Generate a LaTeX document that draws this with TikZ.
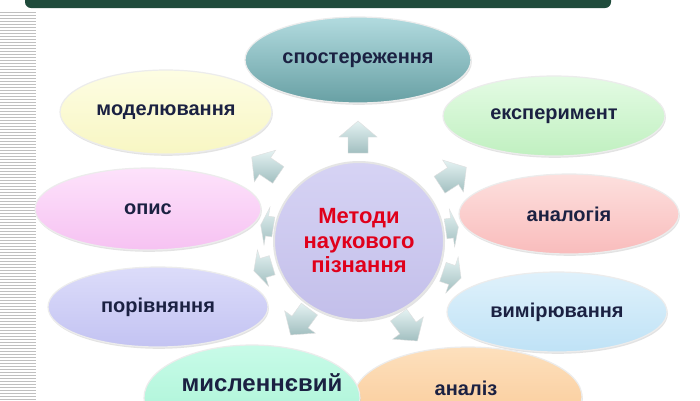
\documentclass[tikz,border=0pt]{standalone}
\usepackage{fontspec}
\setmainfont{Liberation Sans}
\usetikzlibrary{shapes.geometric,shadows}
\definecolor{banner}{HTML}{1F4B3B}
\definecolor{lbltext}{HTML}{1B2142}
\definecolor{ctr}{HTML}{E0001B}
\tikzset{
  oval/.style={ellipse, inner sep=0pt, draw=white!85!gray, line width=1.2pt,
    text=lbltext, font=\fontsize{20}{24}\selectfont\bfseries,
    drop shadow={shadow xshift=0.8pt, shadow yshift=-1.8pt, opacity=0.22}},
  lbl/.style={text=lbltext, font=\fontsize{20}{24}\selectfont\bfseries, inner sep=0pt},
  arrsh/.style={top color=arrtop, bottom color=arrbot, draw=white!75!gray, line width=0.4pt},
  blockarr/.pic={\shade[arrsh] (-16,-10) -- (0,-10) -- (0,-19) -- (16,0) -- (0,19) -- (0,10) -- (-16,10) -- cycle;},
  stripe/.style={draw=gray!50, line width=0.7pt}
}
\definecolor{arrtop}{HTML}{E4F2F2}
\definecolor{arrbot}{HTML}{A2BFC0}
\begin{document}
\begin{tikzpicture}[x=1pt,y=-1pt]
\useasboundingbox (0,0) rectangle (700,400);
\fill[white] (0,0) rectangle (700,400);
% left stripes
\foreach \yy in {12,15,...,399} {\draw[stripe] (0,\yy) -- (36,\yy);}
% banner
\fill[banner, rounded corners=6pt] (25,-12) rectangle (611,8);
% outer ellipses
\node[oval, minimum width=226, minimum height=86, top color={rgb,255:red,178;green,219;blue,223}, bottom color={rgb,255:red,104;green,160;blue,164}] (obs) at (358,60) {спостереження};
\node[oval, minimum width=222, minimum height=80, top color={rgb,255:red,228;green,251;blue,228}, bottom color={rgb,255:red,192;green,240;blue,192}] (exp) at (554,116) {експеримент};
\node[oval, minimum width=220, minimum height=80, top color={rgb,255:red,253;green,224;blue,222}, bottom color={rgb,255:red,249;green,188;blue,188}] (analog) at (569,214) {аналогія};
\node[oval, minimum width=220, minimum height=80, top color={rgb,255:red,223;green,241;blue,251}, bottom color={rgb,255:red,191;green,226;blue,246}] (meas) at (557,312) {вимірювання};
\node[oval, minimum width=228, minimum height=100, top color={rgb,255:red,253;green,224;blue,189}, bottom color={rgb,255:red,249;green,197;blue,143}] (anl) at (468,397) {};
\node[lbl, anchor=base] (anltxt) at (466,395) {аналіз};
\node[oval, minimum width=216, minimum height=106, top color={rgb,255:red,200;green,251;blue,232}, bottom color={rgb,255:red,163;green,242;blue,210}] (thought) at (252,398) {};
\node[lbl, anchor=base, font=\fontsize{24}{28}\selectfont\bfseries] (thtxt) at (262,391) {мисленнєвий};
\node[oval, minimum width=220, minimum height=80, top color={rgb,255:red,220;green,220;blue,250}, bottom color={rgb,255:red,195;green,195;blue,242}] (comp) at (158,307) {порівняння};
\node[oval, minimum width=226, minimum height=82, top color={rgb,255:red,253;green,226;blue,251}, bottom color={rgb,255:red,246;green,194;blue,242}] (desc) at (148,209) {опис};
\node[oval, minimum width=212, minimum height=84, top color={rgb,255:red,253;green,253;blue,227}, bottom color={rgb,255:red,248;green,246;blue,195}] (model) at (166,112) {моделювання};
% centre
\node[oval, draw=white!80!gray, line width=2pt, minimum width=170, minimum height=158, top color={rgb,255:red,214;green,211;blue,244}, bottom color={rgb,255:red,195;green,191;blue,234}, text=ctr, font=\fontsize{22}{24.5}\selectfont\bfseries, align=center] (centre) at (359,241) {Методи\\наукового\\пізнання};
% block arrows
\pic[rotate=90] at (358,137) {blockarr};
\pic[rotate=33] at (453,176) {blockarr};
\pic[rotate=8, xscale=0.4] at (452,228) {blockarr};
\pic[rotate=-19, xscale=0.6] at (452,275) {blockarr};
\pic[rotate=-54] at (408,328) {blockarr};
\pic[rotate=-126] at (300,322) {blockarr};
\pic[rotate=-163, xscale=0.6] at (263,268) {blockarr};
\pic[rotate=171, xscale=0.4] at (267,226) {blockarr};
\pic[rotate=146] at (265,166) {blockarr};
\end{tikzpicture}
\end{document}
